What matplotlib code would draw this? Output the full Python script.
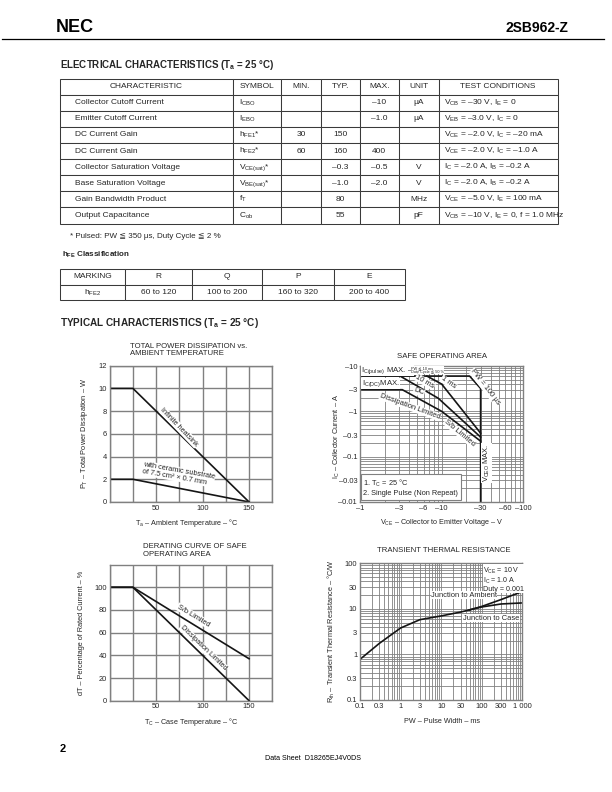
import numpy as np
import matplotlib
matplotlib.use("Agg")
import matplotlib.pyplot as plt
from matplotlib.lines import Line2D
from matplotlib.ticker import MultipleLocator, LogLocator, NullFormatter

plt.rcParams['font.family'] = ['Liberation Sans', 'DejaVu Sans']
plt.rcParams['mathtext.fontset'] = 'custom'
plt.rcParams['mathtext.rm'] = 'Liberation Sans'
plt.rcParams['mathtext.bf'] = 'Liberation Sans:bold'
plt.rcParams['mathtext.it'] = 'Liberation Sans:italic'

# ---- electrical characteristics table ----
elec_header = ['CHARACTERISTIC', 'SYMBOL', 'MIN.', 'TYP.', 'MAX.', 'UNIT', 'TEST CONDITIONS']
elec_names = ['Collector Cutoff Current', 'Emitter Cutoff Current', 'DC Current Gain', 'DC Current Gain',
              'Collector Saturation Voltage', 'Base Saturation Voltage', 'Gain Bandwidth Product',
              'Output Capacitance']
elec_symbols = [r'$\mathrm{I_{CBO}}$', r'$\mathrm{I_{EBO}}$', r'$\mathrm{h_{FE1}}$*', r'$\mathrm{h_{FE2}}$*',
                r'$\mathrm{V_{CE(sat)}}$*', r'$\mathrm{V_{BE(sat)}}$*', r'$\mathrm{f_{T}}$', r'$\mathrm{C_{ob}}$']
elec_min = ['', '', '30', '60', '', '', '', '']
elec_typ = ['', '', '150', '160', '–0.3', '–1.0', '80', '55']
elec_max = ['–10', '–1.0', '', '400', '–0.5', '–2.0', '', '']
elec_unit = ['μA', 'μA', '', '', 'V', 'V', 'MHz', 'pF']
elec_cond = [r'$\mathrm{V_{CB}}$ = –30 V, $\mathrm{I_{E}}$ = 0',
             r'$\mathrm{V_{EB}}$ = –3.0 V, $\mathrm{I_{C}}$ = 0',
             r'$\mathrm{V_{CE}}$ = –2.0 V, $\mathrm{I_{C}}$ = –20 mA',
             r'$\mathrm{V_{CE}}$ = –2.0 V, $\mathrm{I_{C}}$ = –1.0 A',
             r'$\mathrm{I_{C}}$ = –2.0 A, $\mathrm{I_{B}}$ = –0.2 A',
             r'$\mathrm{I_{C}}$ = –2.0 A, $\mathrm{I_{B}}$ = –0.2 A',
             r'$\mathrm{V_{CE}}$ = –5.0 V, $\mathrm{I_{E}}$ = 100 mA',
             r'$\mathrm{V_{CB}}$ = –10 V, $\mathrm{I_{E}}$ = 0, f = 1.0 MHz']

# ---- hFE classification ----
hfe_header = ['MARKING', 'R', 'Q', 'P', 'E']
hfe_ranges = [r'$\mathrm{h_{FE2}}$', '60 to 120', '100 to 200', '160 to 320', '200 to 400']

# ---- total power dissipation vs ambient temperature ----
ta = [0, 25, 150]
pt_heatsink = [10, 10, 0]
pt_ceramic = [2, 2, 0]
pt_ticks = [0, 2, 4, 6, 8, 10, 12]

# ---- safe operating area (magnitudes, labelled as negative values) ----
v_100us = [1, 22, 30, 30]
i_100us = [6, 6, 3.2, 0.01]
v_1ms = [6.6, 10, 30]
i_1ms = [6, 4.0, 0.33]
v_10ms = [3.1, 9.1, 30]
i_10ms = [6, 1.94, 0.27]
v_dc = [1, 3.3, 10, 30]
i_dc = [3, 3, 1, 0.22]
soa_vticks = [1, 3, 6, 10, 30, 60, 100]
soa_vlabels = ['–1', '–3', '–6', '–10', '–30', '–60', '–100']
soa_iticks = [10, 3, 1, 0.3, 0.1, 0.03, 0.01]
soa_ilabels = ['–10', '–3', '–1', '–0.3', '–0.1', '–0.03', '–0.01']

# ---- derating curve ----
tc = [0, 25, 150]
dt_sb = [100, 100, 37]
dt_diss = [100, 100, 0]
dt_ticks = [0, 20, 40, 60, 80, 100]

# ---- transient thermal resistance ----
pw_common = [0.1, 0.3, 1, 3, 10, 30, 50]
rth_common = [0.78, 1.75, 3.8, 5.8, 7.0, 8.5, 9.5]
pw_branch = [50, 100, 300, 1000]
rth_ambient = [9.5, 11.3, 16, 24]
rth_case = [9.5, 11.0, 12.8, 13.5]
pw_ticks = [0.1, 0.3, 1, 3, 10, 30, 100, 300, 1000]
pw_labels = ['0.1', '0.3', '1', '3', '10', '30', '100', '300', '1 000']
rth_ticks = [0.1, 0.3, 1, 3, 10, 30, 100]
rth_labels = ['0.1', '0.3', '1', '3', '10', '30', '100']

W, H = 612, 792
INK = '#262626'
GRID = '#808080'
CURVE = '#151515'

fig = plt.figure(figsize=(W / 100, H / 100), dpi=100)


def rect(l, t, r, b):
    return [l / W, 1 - b / H, (r - l) / W, (b - t) / H]


def put(x, y, s, **kw):
    kw.setdefault('color', INK)
    fig.text(x / W, 1 - y / H, s, **kw)


def make_table(edges, top, bottom, rows, header, fs, pads):
    ax = fig.add_axes(rect(edges[0], top, edges[-1], bottom))
    ax.axis('off')
    tbl = ax.table(cellText=rows, colLabels=header, colWidths=list(np.diff(edges)),
                   bbox=[0, 0, 1, 1], cellLoc='center')
    tbl.auto_set_font_size(False)
    tbl.set_fontsize(fs)
    for (r, c), cell in tbl.get_celld().items():
        cell.set_edgecolor('#3a3a3a')
        cell.set_linewidth(0.75)
        t = cell.get_text()
        t.set_color(INK)
        if r > 0 and c in pads:
            cell._loc = 'left'
            t.set_ha('left')
            cell.PAD = pads[c]
    return tbl


# header
put(56, 28, 'NEC', fontsize=13, fontweight='bold', va='center', color='black')
put(568, 28, '2SB962-Z', fontsize=10, fontweight='bold', va='center', ha='right', color='black')
fig.add_artist(Line2D([2 / W, 604 / W], [1 - 38.6 / H] * 2, color='black', lw=0.9))

put(60.2, 65, r'ELECTRICAL CHARACTERISTICS ($\mathbf{T_a}$ = 25 °C)', fontsize=7, fontweight='bold', va='center')
elec_rows = [list(r) for r in zip(elec_names, elec_symbols, elec_min, elec_typ, elec_max, elec_unit, elec_cond)]
make_table([60.2, 232.8, 281.2, 320.8, 359.8, 398.7, 438.5, 557.8], 78.6, 223.5,
           elec_rows, elec_header, 6, {0: 0.088, 1: 0.12, 6: 0.05})

put(70.3, 236, '* Pulsed: PW ≦ 350 μs, Duty Cycle ≦ 2 %', fontsize=5.8, va='center')
put(61.8, 254.7, r'$\mathbf{h_{FE}}$ Classification', fontsize=5.8, fontweight='bold', va='center')
make_table([60.2, 125.2, 191.5, 261.9, 333.7, 404.8], 268.9, 300.4,
           [hfe_ranges], hfe_header, 6, {})

put(60.2, 323.1, r'TYPICAL CHARACTERISTICS ($\mathbf{T_a}$ = 25 °C)', fontsize=7.2, fontweight='bold', va='center')


def frame(ax):
    for s in ax.spines.values():
        s.set_color(GRID)
        s.set_linewidth(1.0)
    ax.tick_params(which='both', length=0, labelsize=5.4, labelcolor=INK, pad=2)


# ---- chart 1: total power dissipation ----
ax1 = fig.add_axes(rect(109.7, 365.7, 272.3, 502))
ax1.plot(ta, pt_heatsink, color=CURVE, lw=1.2)
ax1.plot(ta, pt_ceramic, color=CURVE, lw=1.2)
ax1.set_xlim(0, 175)
ax1.set_ylim(0, 12)
ax1.set_xticks([0, 50, 100, 150])
ax1.set_xticklabels(['', '50', '100', '150'])
ax1.xaxis.set_minor_locator(MultipleLocator(25))
ax1.set_yticks(pt_ticks)
ax1.grid(True, which='both', color=GRID, lw=1.0)
frame(ax1)
ax1.text(74.6, 6.6, 'Infinite heatsink', rotation=-46, ha='center', va='center', fontsize=5.3, color=INK,
         bbox=dict(fc='white', ec='none', pad=0.4))
ax1.text(73.9, 2.45, 'with ceramic substrate\nof 7.5 cm² × 0.7 mm', rotation=-10, ha='center', va='center',
         multialignment='left', fontsize=5.3, color=INK, linespacing=1.05,
         bbox=dict(fc='white', ec='none', pad=0.2))
put(130, 350, 'TOTAL POWER DISSIPATION vs.\nAMBIENT TEMPERATURE', fontsize=5.6, va='center', linespacing=1.0)
put(85, 433, r'$\mathrm{P_T}$ – Total Power Dissipation – W', fontsize=5.3, rotation=90, ha='center', va='center')
put(187, 522.7, r'$\mathrm{T_a}$ – Ambient Temperature – °C', fontsize=5.2, ha='center', va='center')

# ---- chart 2: safe operating area ----
ax2 = fig.add_axes(rect(360, 366, 523.3, 502))
ax2.set_xscale('log')
ax2.set_yscale('log')
ax2.plot(v_100us, i_100us, color=CURVE, lw=1.2)
ax2.plot(v_1ms, i_1ms, color=CURVE, lw=1.2)
ax2.plot(v_10ms, i_10ms, color=CURVE, lw=1.2)
ax2.plot(v_dc, i_dc, color=CURVE, lw=1.2)
ax2.set_xlim(1, 100)
ax2.set_ylim(0.01, 10)
ax2.set_xticks(soa_vticks)
ax2.set_xticklabels(soa_vlabels)
ax2.set_yticks(soa_iticks)
ax2.set_yticklabels(soa_ilabels)
for a in (ax2.xaxis, ax2.yaxis):
    a.set_minor_locator(LogLocator(base=10, subs=np.arange(2, 10)))
    a.set_minor_formatter(NullFormatter())
ax2.grid(True, which='both', color=GRID, lw=0.6)
frame(ax2)
wb = dict(fc='white', ec='none', pad=0.3)
ax2.text(1.04, 7.9, r'$\mathrm{I_{C(pulse)}}$ MAX. –', fontsize=5.6, ha='left', va='center', color=INK, bbox=wb)
ax2.text(4.2, 8.1, 'PW ≦ 10 ms\nDuty Cycle ≦ 50 %', fontsize=2.8, ha='left', va='center', color=INK,
         linespacing=0.9, bbox=dict(fc='white', ec='none', pad=0.1))
ax2.text(1.05, 4.15, r'$\mathrm{I_{C(DC)}}$MAX.', fontsize=5.6, ha='left', va='center', color=INK, bbox=wb)
ax2.text(6.25, 4.5, '10 ms', fontsize=5.4, rotation=-30, ha='center', va='center', color=INK, bbox=wb)
ax2.text(12.1, 4.3, '1 ms', fontsize=5.4, rotation=-35, ha='center', va='center', color=INK, bbox=wb)
ax2.text(5.27, 2.7, 'DC', fontsize=5.4, rotation=-20, ha='center', va='center', color=INK, bbox=wb)
ax2.text(4.09, 1.27, 'Dissipation Limited', fontsize=5.4, rotation=-20, ha='center', va='center', color=INK,
         bbox=wb)
ax2.text(16.7, 0.33, 'S/b Limited', fontsize=5.4, rotation=-40, ha='center', va='center', color=INK, bbox=wb)
ax2.text(34, 3.4, 'PW = 100 μs', fontsize=5.4, rotation=-52, ha='center', va='center', color=INK, bbox=wb)
ax2.text(35.5, 0.072, r'$\mathrm{V_{CEO}}$ MAX.', fontsize=5.4, rotation=90, ha='center', va='center',
         color=INK, bbox=wb)
ax2.text(0.02, 0.035, '1. $\\mathrm{T_C}$ = 25 °C\n2. Single Pulse (Non Repeat)', transform=ax2.transAxes,
         fontsize=5.3, ha='left', va='bottom', color=INK, linespacing=1.3,
         bbox=dict(boxstyle='square,pad=0.35', fc='white', ec=GRID, lw=0.8))
put(441.7, 356, 'SAFE OPERATING AREA', fontsize=5.6, ha='center', va='center')
put(336.7, 436, r'$\mathrm{I_C}$ – Collector Current – A', fontsize=5.3, rotation=90, ha='center', va='center')
put(441.7, 522.7, r'$\mathrm{V_{CE}}$ – Collector to Emitter Voltage – V', fontsize=5.2, ha='center',
    va='center')

# ---- chart 3: derating curve ----
ax3 = fig.add_axes(rect(109.7, 564.6, 272.3, 700.7))
ax3.plot(tc, dt_sb, color=CURVE, lw=1.2)
ax3.plot(tc, dt_diss, color=CURVE, lw=1.2)
ax3.set_xlim(0, 175)
ax3.set_ylim(0, 120)
ax3.set_xticks([0, 50, 100, 150])
ax3.set_xticklabels(['', '50', '100', '150'])
ax3.xaxis.set_minor_locator(MultipleLocator(25))
ax3.set_yticks(dt_ticks)
ax3.grid(True, which='both', color=GRID, lw=1.0)
frame(ax3)
ax3.text(90, 75, 'S/b Limited', rotation=-31, ha='center', va='center', fontsize=5.3, color=INK,
         bbox=dict(fc='white', ec='none', pad=0.4))
ax3.text(100.8, 46.5, 'Dissipation Limited', rotation=-44, ha='center', va='center', fontsize=5.3, color=INK,
         bbox=dict(fc='white', ec='none', pad=0.4))
put(143.3, 550.5, 'DERATING CURVE OF SAFE\nOPERATING AREA', fontsize=5.6, va='center', linespacing=1.0)
put(81.7, 633, 'dT – Percentage of Rated Current – %', fontsize=5.3, rotation=90, ha='center', va='center')
put(191.7, 721.7, r'$\mathrm{T_C}$ – Case Temperature – °C', fontsize=5.2, ha='center', va='center')

# ---- chart 4: transient thermal resistance ----
ax4 = fig.add_axes(rect(360, 563.3, 522.3, 700))
ax4.set_xscale('log')
ax4.set_yscale('log')
ax4.plot(pw_common, rth_common, color=CURVE, lw=1.2)
ax4.plot(pw_branch, rth_ambient, color=CURVE, lw=1.2)
ax4.plot(pw_branch, rth_case, color=CURVE, lw=1.2)
ax4.set_xlim(0.1, 1000)
ax4.set_ylim(0.1, 100)
ax4.set_xticks(pw_ticks)
ax4.set_xticklabels(pw_labels)
ax4.set_yticks(rth_ticks)
ax4.set_yticklabels(rth_labels)
for a in (ax4.xaxis, ax4.yaxis):
    a.set_minor_locator(LogLocator(base=10, subs=np.arange(2, 10)))
    a.set_minor_formatter(NullFormatter())
ax4.grid(True, which='both', color=GRID, lw=0.6)
frame(ax4)
ax4.text(36.6, 20.1, 'Junction to Ambient', fontsize=5.4, ha='center', va='center', color=INK, bbox=wb)
ax4.text(169, 6.2, 'Junction to Case', fontsize=5.4, ha='center', va='center', color=INK, bbox=wb)
ax4.text(0.76, 0.985, '$\\mathrm{V_{CE}}$ = 10 V\n$\\mathrm{I_C}$ = 1.0 A\nDuty = 0.001',
         transform=ax4.transAxes, fontsize=5.1, ha='left', va='top', color=INK, linespacing=1.0,
         bbox=dict(fc='white', ec='none', pad=0.3))
put(443.3, 551, 'TRANSIENT THERMAL RESISTANCE', fontsize=5.6, ha='center', va='center')
put(331.7, 631, r'$\mathrm{R_{th}}$ – Transient Thermal Resistance – °C/W', fontsize=5.3, rotation=90,
    ha='center', va='center')
put(441.7, 721.7, 'PW – Pulse Width – ms', fontsize=5.2, ha='center', va='center')

# footer
put(59.8, 749, '2', fontsize=8, fontweight='bold', va='center', color='black')
put(313, 758, 'Data Sheet  D18265EJ4V0DS', fontsize=5.1, ha='center', va='center', color='black')

fig.savefig('out.png', dpi=100, facecolor='white')
